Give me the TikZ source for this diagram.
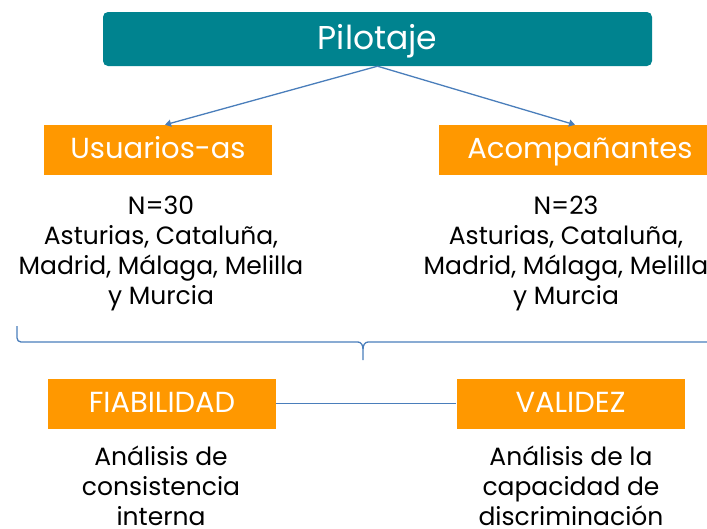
\documentclass[tikz,border=0pt]{standalone}
\usepackage{fontspec}
\setmainfont{Poppins}
\usetikzlibrary{arrows.meta}
\definecolor{pilteal}{HTML}{00838F}
\definecolor{boxorange}{HTML}{FF9800}
\definecolor{linkblue}{HTML}{4A7EBB}
\begin{document}
\begin{tikzpicture}[
  x=1pt, y=-1pt,
  titlebox/.style={fill=pilteal, text=white, rounded corners=5pt,
    minimum width=549pt, minimum height=54pt, inner sep=0pt,
    text height=23pt, text depth=3pt,
    font=\fontsize{33}{38}\selectfont},
  groupbox/.style={fill=boxorange, text=white, minimum width=228pt,
    minimum height=50pt, inner sep=0pt,
    text height=20pt, text depth=3pt,
    font=\fontsize{29}{34}\selectfont},
  bodytext/.style={align=center, inner sep=0pt,
    font=\fontsize{25}{30}\selectfont},
  link/.style={draw=linkblue, line width=1.3pt}
  ]
\useasboundingbox (0,0) rectangle (707,528);

% Root node
\node[titlebox] (pil) at (377.5,39) {Pilotaje};

% Sample groups
\node[groupbox] (usu) at (158,150) {Usuarios-as};
\node[groupbox, minimum width=282pt] (aco) at (580,150) {Acompañantes};

\node[bodytext] (usutxt) at (161,254)
  {N=30\\Asturias, Cataluña,\\Madrid, Málaga, Melilla\\y Murcia};
\node[bodytext] (acotxt) at (566,254)
  {N=23\\Asturias, Cataluña,\\Madrid, Málaga, Melilla\\y Murcia};

\draw[link, -{Triangle[width=7pt,length=6pt]}] (pil.south) -- ([xshift=7pt]usu.north);
\draw[link, -{Triangle[width=7pt,length=6pt]}] (pil.south) -- ([xshift=-5pt]aco.north);

% Brace under both groups
\coordinate (bl) at (17,326);
\coordinate (bm) at (363,360);
\coordinate (br) at (710,342);
\draw[link, rounded corners=4pt] (bl) |- (358,342);
\draw[link] (358,342) to[out=0,in=90] (bm |- 0,349) -- (bm);
\draw[link] (bm |- 0,349) to[out=90,in=180] (368,342) -- (br);

% Properties
\node[groupbox] (fia) at (162,403.5) {FIABILIDAD};
\node[groupbox] (val) at (570.5,403.5) {VALIDEZ};
\draw[link] (fia) -- (val);

\node[bodytext] (fiatxt) at (161,486)
  {Análisis de\\consistencia\\interna};
\node[bodytext] (valtxt) at (571,486)
  {Análisis de la\\capacidad de\\discriminación};

\end{tikzpicture}
\end{document}
